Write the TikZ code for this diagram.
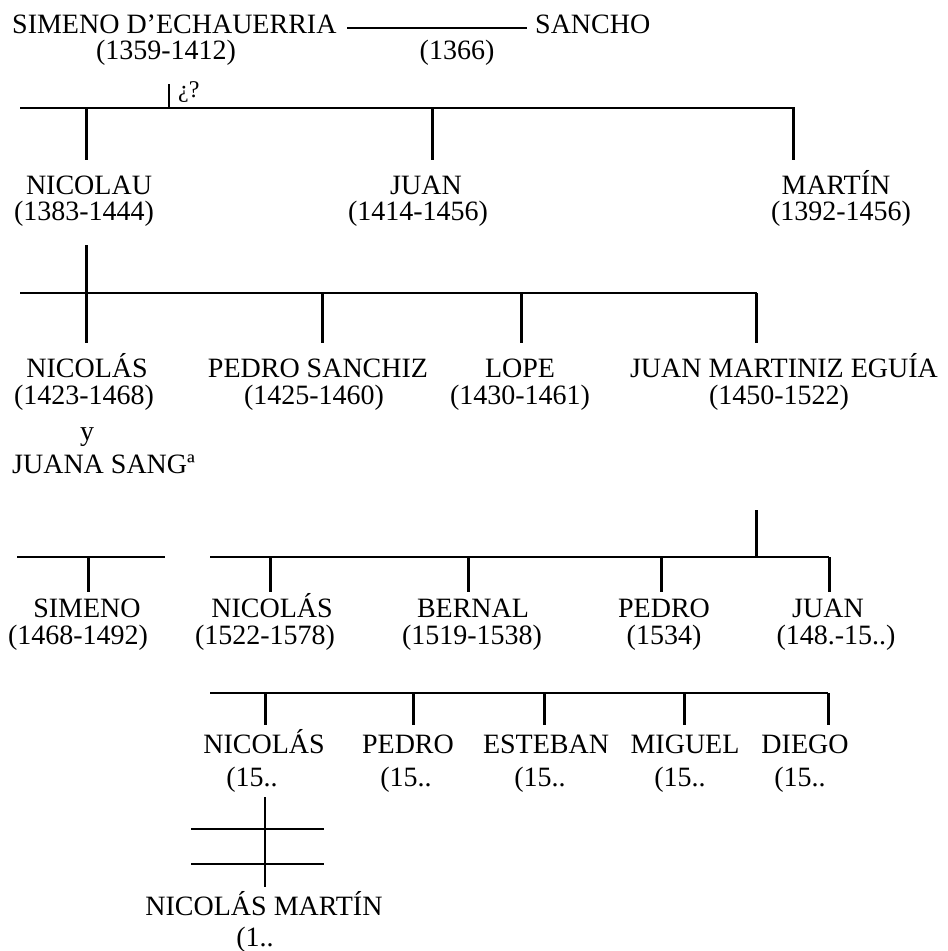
\documentclass[tikz,border=0pt]{standalone}
\usepackage{fontspec}
\setmainfont{Liberation Serif}
\begin{document}
\begin{tikzpicture}[x=1pt,y=-1pt,
  person/.style={font=\fontsize{28}{32}\selectfont, inner sep=0pt, anchor=base},
  smalltxt/.style={font=\fontsize{24}{26}\selectfont, inner sep=0pt, anchor=base west},
  bar/.style={line width=2.4pt},
  drop/.style={line width=3pt},
  thinline/.style={line width=1.6pt}]
\useasboundingbox (0,0) rectangle (948,951);

% ---------- generation 1
\node[person, anchor=base west] (simeno) at (12,33) {SIMENO D'ECHAUERRIA};
\node[person, anchor=base west] (sancho) at (535,33) {SANCHO};
\node[person] (simenoD) at (166,59) {(1359-1412)};
\node[person] (sanchoD) at (457,59) {(1366)};
\coordinate (m1) at (347,28); \coordinate (m2) at (527,28);
\draw[thinline] (m1) -- (m2);
\coordinate (q1) at (169,84); \coordinate (q2) at (169,108);
\draw[line width=2pt] (q1) -- (q2);
\node[smalltxt] (qmark) at (178,97) {¿?};

% ---------- bar 1
\coordinate (b1l) at (20,108); \coordinate (b1r) at (795,108);
\draw[bar] (b1l) -- (b1r);
\coordinate (b1a) at (86,108);  \coordinate (d1a) at (86,160);
\coordinate (b1b) at (432,108); \coordinate (d1b) at (432,160);
\coordinate (b1c) at (793,108); \coordinate (d1c) at (793,160);
\draw[drop] (b1a) -- (d1a);
\draw[drop] (b1b) -- (d1b);
\draw[drop] (b1c) -- (d1c);

% ---------- generation 2
\node[person] (nicolau) at (89,194) {NICOLAU};
\node[person] (nicolauD) at (84,220) {(1383-1444)};
\node[person] (juan1) at (426,194) {JUAN};
\node[person] (juan1D) at (418,220) {(1414-1456)};
\node[person] (martin) at (836,194) {MARTÍN};
\node[person] (martinD) at (841,220) {(1392-1456)};

% ---------- bar 2
\coordinate (n2a) at (86,245); \coordinate (n2b) at (86,293);
\draw[drop] (n2a) -- (n2b);
\coordinate (b2l) at (20,293); \coordinate (b2r) at (757,293);
\draw[bar] (b2l) -- (b2r);
\coordinate (d2a) at (86,343);
\coordinate (b2b) at (322,293); \coordinate (d2b) at (322,343);
\coordinate (b2c) at (521,293); \coordinate (d2c) at (521,343);
\coordinate (b2d) at (756,293); \coordinate (d2d) at (756,343);
\draw[drop] (n2b) -- (d2a);
\draw[drop] (b2b) -- (d2b);
\draw[drop] (b2c) -- (d2c);
\draw[drop] (b2d) -- (d2d);

% ---------- generation 3
\node[person] (nicolas1) at (87,377) {NICOLÁS};
\node[person] (nicolas1D) at (84,404) {(1423-1468)};
\node[person] (yy) at (87,440) {y};
\node[person, anchor=base west] (juana) at (12,473) {JUANA SANGª};
\node[person] (pedroS) at (318,377) {PEDRO SANCHIZ};
\node[person] (pedroSD) at (314,404) {(1425-1460)};
\node[person] (lope) at (520,377) {LOPE};
\node[person] (lopeD) at (520,404) {(1430-1461)};
\node[person] (juanME) at (784,377) {JUAN MARTINIZ EGUÍA};
\node[person] (juanMED) at (779,404) {(1450-1522)};

% ---------- bars 3
\coordinate (b3l) at (17,557); \coordinate (b3r) at (165,557);
\draw[bar] (b3l) -- (b3r);
\coordinate (b3a) at (88,557); \coordinate (d3a) at (88,592);
\draw[drop] (b3a) -- (d3a);
\coordinate (n3a) at (756,510); \coordinate (n3b) at (756,557);
\draw[drop] (n3a) -- (n3b);
\coordinate (b4l) at (210,557); \coordinate (b4r) at (829,557);
\draw[bar] (b4l) -- (b4r);
\coordinate (b4a) at (270,557); \coordinate (d4a) at (270,592);
\coordinate (b4b) at (468,557); \coordinate (d4b) at (468,592);
\coordinate (b4c) at (661,557); \coordinate (d4c) at (661,592);
\coordinate (b4d) at (829,557); \coordinate (d4d) at (829,592);
\draw[drop] (b4a) -- (d4a);
\draw[drop] (b4b) -- (d4b);
\draw[drop] (b4c) -- (d4c);
\draw[drop] (b4d) -- (d4d);

% ---------- generation 4
\node[person] (simeno2) at (87,617) {SIMENO};
\node[person] (simeno2D) at (78,644) {(1468-1492)};
\node[person] (nicolas2) at (272,617) {NICOLÁS};
\node[person] (nicolas2D) at (265,644) {(1522-1578)};
\node[person] (bernal) at (473,617) {BERNAL};
\node[person] (bernalD) at (472,644) {(1519-1538)};
\node[person] (pedro2) at (664,617) {PEDRO};
\node[person] (pedro2D) at (664,644) {(1534)};
\node[person] (juan2) at (828,617) {JUAN};
\node[person] (juan2D) at (836,644) {(148.-15..)};

% ---------- bar 5
\coordinate (b5l) at (210,693); \coordinate (b5r) at (828,693);
\draw[bar] (b5l) -- (b5r);
\coordinate (b5a) at (265,693); \coordinate (d5a) at (265,725);
\coordinate (b5b) at (413,693); \coordinate (d5b) at (413,725);
\coordinate (b5c) at (544,693); \coordinate (d5c) at (544,725);
\coordinate (b5d) at (684,693); \coordinate (d5d) at (684,725);
\coordinate (b5e) at (828,693); \coordinate (d5e) at (828,725);
\draw[drop] (b5a) -- (d5a);
\draw[drop] (b5b) -- (d5b);
\draw[drop] (b5c) -- (d5c);
\draw[drop] (b5d) -- (d5d);
\draw[drop] (b5e) -- (d5e);

% ---------- generation 5
\node[person] (nicolas3) at (264,753) {NICOLÁS};
\node[person] (nicolas3D) at (252,786) {(15..};
\node[person] (pedro3) at (408,753) {PEDRO};
\node[person] (pedro3D) at (406,786) {(15..};
\node[person] (esteban) at (546,753) {ESTEBAN};
\node[person] (estebanD) at (540,786) {(15..};
\node[person] (miguel) at (685,753) {MIGUEL};
\node[person] (miguelD) at (680,786) {(15..};
\node[person] (diego) at (805,753) {DIEGO};
\node[person] (diegoD) at (800,786) {(15..};

% ---------- last descent
\coordinate (v1) at (265,797); \coordinate (v2) at (265,887);
\draw[line width=2.4pt] (v1) -- (v2);
\coordinate (c1l) at (191,829); \coordinate (c1r) at (324,829);
\coordinate (c2l) at (191,864); \coordinate (c2r) at (324,864);
\draw[bar] (c1l) -- (c1r);
\draw[bar] (c2l) -- (c2r);

\node[person] (nicolasM) at (264,915) {NICOLÁS MARTÍN};
\node[person] (nicolasMD) at (255,946) {(1..};
\end{tikzpicture}
\end{document}
